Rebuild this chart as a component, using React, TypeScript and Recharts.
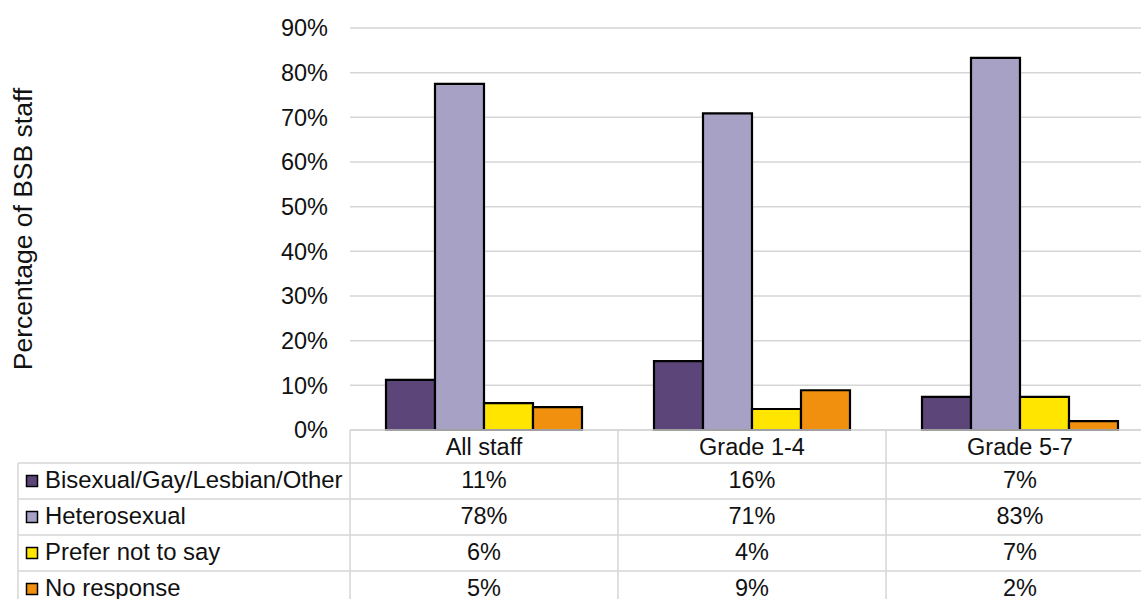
import { BarChart, Bar, XAxis, YAxis, CartesianGrid } from "recharts";

const categories = ["All staff", "Grade 1-4", "Grade 5-7"];
const seriesNames = [
  "Bisexual/Gay/Lesbian/Other",
  "Heterosexual",
  "Prefer not to say",
  "No response",
];
const seriesColors = ["#5c4579", "#a6a1c5", "#ffe500", "#f0900e"];

// bar heights (percent)
const bisexual = [11.2, 15.4, 7.4];
const heterosexual = [77.5, 70.9, 83.3];
const preferNot = [6.0, 4.7, 7.4];
const noResponse = [5.1, 8.9, 2.0];

// the data table values, as printed
const bisexualLabels = ["11%", "16%", "7%"];
const heterosexualLabels = ["78%", "71%", "83%"];
const preferNotLabels = ["6%", "4%", "7%"];
const noResponseLabels = ["5%", "9%", "2%"];

const yTicks = [0, 10, 20, 30, 40, 50, 60, 70, 80, 90];

const seriesValues = [bisexual, heterosexual, preferNot, noResponse];
const tableLabels = [bisexualLabels, heterosexualLabels, preferNotLabels, noResponseLabels];

const data = categories.map((name, i) => {
  const row: Record<string, string | number> = { name };
  seriesValues.forEach((vals, s) => {
    row[`s${s}`] = vals[i];
  });
  return row;
});

const FONT = "'Liberation Sans', Arial, sans-serif";
const FS = 23.5;
const GRID = "#d6d6d6";
const TEXT = "#111";

const CHART_W = 1154;
const CHART_H = 600;
const Y_AXIS_W = 350;
const X_AXIS_H = 170;
const BAND = (CHART_W - Y_AXIS_W) / categories.length;
const HEADER_H = 33;
const ROW_H = 36;
const LEGEND_LEFT = 18;

const TableTick = (props: any) => {
  const { x, y, payload, index } = props;
  const left = x - BAND / 2;
  const right = x + BAND / 2;
  const bottom = y + X_AXIS_H;
  const rowTops = seriesNames.map((_, r) => y + HEADER_H + r * ROW_H);
  return (
    <g fontFamily={FONT} fontSize={FS} fill={TEXT}>
      {index === 0 && (
        <g>
          <line x1={left} y1={y} x2={left} y2={bottom} stroke={GRID} strokeWidth={1.5} />
          <line x1={LEGEND_LEFT} y1={rowTops[0]} x2={LEGEND_LEFT} y2={bottom} stroke={GRID} strokeWidth={1.5} />
          {seriesNames.map((n, r) => (
            <g key={n}>
              <line x1={LEGEND_LEFT} y1={rowTops[r]} x2={left} y2={rowTops[r]} stroke={GRID} strokeWidth={1.5} />
              <rect
                x={LEGEND_LEFT + 8.5}
                y={rowTops[r] + 12.5}
                width={11}
                height={11}
                fill={seriesColors[r]}
                stroke="#000"
                strokeWidth={1.5}
              />
              <text x={LEGEND_LEFT + 27} y={rowTops[r] + 25} fontSize={23.9} stroke="none" fill={TEXT}>
                {n}
              </text>
            </g>
          ))}
        </g>
      )}
      <line x1={right} y1={y} x2={right} y2={bottom} stroke={GRID} strokeWidth={1.5} />
      <text x={x} y={y + 25} textAnchor="middle" stroke="none" fill={TEXT}>
        {payload.value}
      </text>
      {seriesNames.map((n, r) => (
        <g key={n}>
          <line x1={left} y1={rowTops[r]} x2={right} y2={rowTops[r]} stroke={GRID} strokeWidth={1.5} />
          <text x={x} y={rowTops[r] + 25} textAnchor="middle" stroke="none" fill={TEXT}>
            {tableLabels[r][index]}
          </text>
        </g>
      ))}
    </g>
  );
};

const YLabel = (props: any) => {
  const { viewBox } = props;
  const cy = viewBox.y + viewBox.height / 2;
  return (
    <text
      x={32}
      y={cy}
      transform={`rotate(-90, 32, ${cy})`}
      textAnchor="middle"
      fontFamily={FONT}
      fontSize={26.5}
      fill={TEXT}
    >
      Percentage of BSB staff
    </text>
  );
};

export default function App() {
  return (
    <div
      style={{
        position: "absolute",
        left: 0,
        top: 0,
        width: 1141,
        height: 599,
        overflow: "hidden",
        background: "#fff",
      }}
    >
      <BarChart
        width={CHART_W}
        height={CHART_H}
        data={data}
        margin={{ top: 28, right: 0, bottom: 0, left: 0 }}
        barCategoryGap={36}
        barGap={0}
      >
        <CartesianGrid vertical={false} stroke={GRID} strokeWidth={1.5} />
        <XAxis
          dataKey="name"
          height={X_AXIS_H}
          tickLine={false}
          tickSize={0}
          tickMargin={0}
          axisLine={{ stroke: GRID, strokeWidth: 1.5 }}
          tick={<TableTick />}
          interval={0}
        />
        <YAxis
          width={Y_AXIS_W}
          domain={[0, 90]}
          ticks={yTicks}
          tickFormatter={(v: number) => `${v}%`}
          axisLine={false}
          tickLine={false}
          tickSize={6}
          tickMargin={16}
          tick={{ fontFamily: FONT, fontSize: FS, fill: TEXT }}
          label={{ content: <YLabel /> }}
        />
        {seriesNames.map((n, s) => (
          <Bar
            key={n}
            dataKey={`s${s}`}
            name={n}
            fill={seriesColors[s]}
            stroke="#000"
            strokeWidth={2.2}
            isAnimationActive={false}
          />
        ))}
      </BarChart>
    </div>
  );
}
